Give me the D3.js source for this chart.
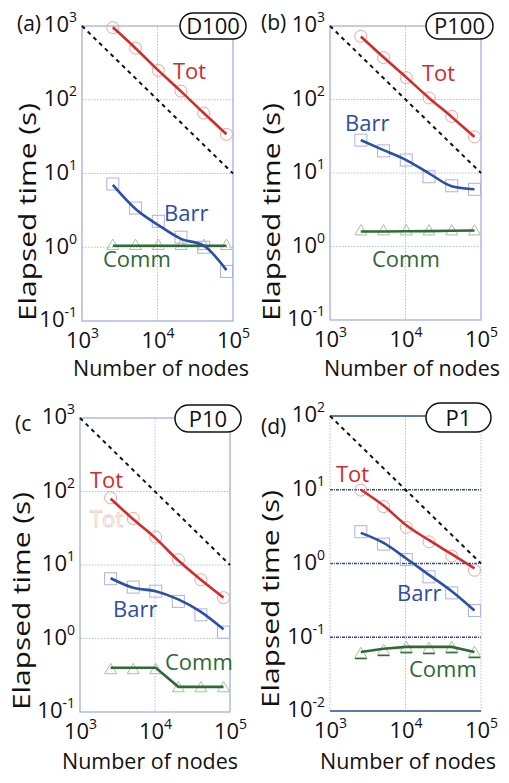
<!DOCTYPE html>
<html>
<head>
<meta charset="utf-8">
<script src="https://cdn.jsdelivr.net/npm/d3@7"></script>
<style>
body{margin:0;background:#fff}
svg{display:block}
text{font-family:"Open Sans",sans-serif}
</style>
</head>
<body>
<div id="chart"></div>
<script>
// ---- data ----
const nodes = [2560, 5120, 10240, 20480, 40960, 81920];
const idealX = [1e3, 1e5];

const panelTags = ["(a)", "(b)", "(c", "(d)"];
const caseNames = ["D100", "P100", "P10", "P1"];

// (a) D100
const totA = [950, 500, 250, 131, 66, 34];
const totLineA = [960, 500, 250, 130, 66, 34];
const barrA = [7.2, 3.4, 2.25, 1.37, 1.0, 0.47];
const barrLineA = [7.0, 3.3, 2.0, 1.3, 1.05, 0.49];
const commA = [1.04, 1.04, 1.04, 1.04, 1.04, 1.04];
const commLineA = [1.05, 1.05, 1.05, 1.05, 1.05, 1.05];
const idealA = [1000, 10];

// (b) P100
const totB = [724, 372, 198, 105, 59, 31];
const totLineB = [720, 375, 200, 105, 58, 31];
const barrB = [28, 20, 15, 8.9, 6.7, 6.0];
const barrLineB = [28, 20.5, 15, 9.9, 6.6, 6.0];
const commB = [1.6, 1.6, 1.6, 1.6, 1.6, 1.6];
const commLineB = [1.6, 1.6, 1.61, 1.62, 1.64, 1.65];
const idealB = [1000, 10];

// (c) P10
const totC = [82, 43, 24, 11.8, 6.3, 3.6];
const totLineC = [80, 42, 23, 11.5, 6.3, 3.6];
const barrC = [6.5, 5.0, 4.4, 3.2, 2.1, 1.22];
const barrLineC = [6.6, 4.9, 4.4, 3.4, 2.3, 1.33];
const commC = [0.37, 0.37, 0.37, 0.21, 0.21, 0.21];
const commLineC = [0.40, 0.40, 0.40, 0.22, 0.22, 0.22];
const idealC = [1000, 10];

// (d) P1
const totD = [9.9, 5.9, 3.1, 1.97, 1.26, 0.81];
const totLineD = [10, 6.1, 3.3, 2.07, 1.34, 0.86];
const barrD = [2.7, 1.83, 1.13, 0.66, 0.40, 0.23];
const barrLineD = [2.6, 1.9, 1.17, 0.70, 0.42, 0.23];
const commD = [0.059, 0.065, 0.071, 0.069, 0.071, 0.061];
const commLineD = [0.063, 0.070, 0.074, 0.074, 0.074, 0.063];
const idealD = [100, 1];

const yTicksHigh = [0.1, 1, 10, 100, 1000];
const yTicksLow = [0.01, 0.1, 1, 10, 100];
const xTicks = [1e3, 1e4, 1e5];

// ---- colours ----
const totColor = "#d42b2b", totMark = "#f2a39b";
const barrColor = "#2c4ea6", barrMark = "#a9b3e3";
const commColor = "#2d6a34", commMark = "#a3c39a";
const frameColor = "#9aa7e3", gridColor = "#b3bdec", darkBlue = "#2a48a8";

// ---- layout of each panel ----
const panels = [
  {tag: panelTags[0], name: caseNames[0], box: [82, 233, 26, 321], yTicks: yTicksHigh,
   tot: totA, totLine: totLineA, barr: barrA, barrLine: barrLineA, comm: commA, commLine: commLineA, ideal: idealA,
   tagPos: [17, 31], pill: [180, 13, 66, 26], yTitle: [36, 212], xTitle: [161, 376],
   labels: {tot: [173, 79], barr: [164, 221], comm: [103, 267]}},
  {tag: panelTags[1], name: caseNames[1], box: [330, 481, 26, 320], yTicks: yTicksHigh,
   tot: totB, totLine: totLineB, barr: barrB, barrLine: barrLineB, comm: commB, commLine: commLineB, ideal: idealB,
   tagPos: [261, 30], pill: [426, 13, 67, 26], yTitle: [280, 212], xTitle: [412, 376],
   labels: {tot: [422, 81], barr: [345, 131], comm: [372, 267]}},
  {tag: panelTags[2], name: caseNames[2], box: [80, 230, 418, 712], yTicks: yTicksHigh,
   tot: totC, totLine: totLineC, barr: barrC, barrLine: barrLineC, comm: commC, commLine: commLineC, ideal: idealC,
   tagPos: [15, 431], pill: [175, 405, 66, 27], yTitle: [30, 601], xTitle: [150, 769],
   labels: {tot: [90, 488], ghost: [90, 527], barr: [113, 617], comm: [165, 670]}},
  {tag: panelTags[3], name: caseNames[3], box: [330, 481, 416, 711], yTicks: yTicksLow, dark: true,
   tot: totD, totLine: totLineD, barr: barrD, barrLine: barrLineD, comm: commD, commLine: commLineD, ideal: idealD,
   tagPos: [261, 434], pill: [426, 403, 65, 29], yTitle: [279, 599], xTitle: [408, 769],
   labels: {tot: [336, 482], barr: [397, 601], comm: [409, 677]}}
];

const svg = d3.select("#chart").append("svg")
  .attr("width", 509).attr("height", 783);

panels.forEach(p => drawPanel(p));

function drawPanel(p) {
  const [x0, x1, y0, y1] = p.box;
  const g = svg.append("g");
  const x = d3.scaleLog().domain([1e3, 1e5]).range([x0, x1]);
  const y = d3.scaleLog().domain([p.yTicks[0], p.yTicks[p.yTicks.length - 1]]).range([y1, y0]);

  // grid
  g.selectAll(".vgrid").data([1e4]).enter().append("line")
    .attr("x1", d => x(d)).attr("x2", d => x(d)).attr("y1", y0).attr("y2", y1)
    .attr("stroke", gridColor).attr("stroke-width", 1).attr("stroke-dasharray", "1.5,1.5");
  g.selectAll(".hgrid").data(p.yTicks.slice(1, -1)).enter().append("line")
    .attr("x1", x0).attr("x2", x1).attr("y1", d => y(d)).attr("y2", d => y(d))
    .attr("stroke", p.dark ? darkBlue : gridColor)
    .attr("stroke-width", p.dark ? 1.3 : 1)
    .attr("stroke-dasharray", p.dark ? "3,1,1,1" : "1.5,1.5");

  // frame
  if (p.dark) {
    [x0, x1].forEach(v => g.append("line").attr("x1", v).attr("x2", v).attr("y1", y0).attr("y2", y1)
      .attr("stroke", gridColor).attr("stroke-dasharray", "1.5,1.5"));
    [y0, y1].forEach(v => g.append("line").attr("x1", x0).attr("x2", x1).attr("y1", v).attr("y2", v)
      .attr("stroke", darkBlue).attr("stroke-width", 1.5));
  } else {
    g.append("rect").attr("x", x0).attr("y", y0).attr("width", x1 - x0).attr("height", y1 - y0)
      .attr("fill", "none").attr("stroke", frameColor).attr("stroke-width", 1.2);
  }

  // axes
  const ax = d3.axisLeft(y).tickValues(p.yTicks).tickSize(0).tickPadding(5).tickFormat(() => "");
  const yAxis = g.append("g").attr("transform", `translate(${x0},0)`).call(ax);
  const bx = d3.axisBottom(x).tickValues(xTicks).tickSize(0).tickPadding(11).tickFormat(() => "");
  const xAxis = g.append("g").attr("transform", `translate(0,${y1})`).call(bx);
  [yAxis, xAxis].forEach(a => {
    a.select(".domain").remove();
    a.attr("font-size", null).attr("font-family", null);
    a.selectAll(".tick text").each(function(d) {
      const t = d3.select(this).attr("fill", "#111").style("font-size", "22px");
      t.append("tspan").text("10");
      t.append("tspan").attr("dy", -10).style("font-size", "14px").text(Math.round(Math.log10(d)));
    });
  });
  yAxis.selectAll(".tick text").attr("dy", "0.27em");

  // ideal scaling line
  g.append("path").datum(idealX.map((v, i) => [v, p.ideal[i]]))
    .attr("d", d3.line().x(d => x(d[0])).y(d => y(d[1])))
    .attr("stroke", "#111").attr("stroke-width", 2).attr("stroke-dasharray", "4,4").attr("fill", "none");

  // markers
  g.selectAll(".tri").data(p.comm).enter().append("path")
    .attr("transform", (d, i) => `translate(${x(nodes[i])},${y(d)})`)
    .attr("d", d3.symbol(d3.symbolTriangle, 62)())
    .attr("fill", "none").attr("stroke", commMark).attr("stroke-width", 1);
  if (p.dark) {
    g.selectAll(".triBase").data(p.comm).enter().append("line")
      .attr("x1", (d, i) => x(nodes[i]) - 6).attr("x2", (d, i) => x(nodes[i]) + 6)
      .attr("y1", d => y(d) + 4.5).attr("y2", d => y(d) + 4.5)
      .attr("stroke", commColor).attr("stroke-width", 1.3);
  }
  g.selectAll(".sq").data(p.barr).enter().append("rect")
    .attr("x", (d, i) => x(nodes[i]) - 6).attr("y", d => y(d) - 6)
    .attr("width", 12).attr("height", 12)
    .attr("fill", "none").attr("stroke", barrMark).attr("stroke-width", 1);
  g.selectAll(".circ").data(p.tot).enter().append("circle")
    .attr("cx", (d, i) => x(nodes[i])).attr("cy", d => y(d)).attr("r", 6)
    .attr("fill", "none").attr("stroke", totMark).attr("stroke-width", 1);

  // lines
  const line = d3.line().x((d, i) => x(nodes[i])).y(d => y(d));
  [[p.commLine, commColor, d3.curveLinear], [p.barrLine, barrColor, d3.curveMonotoneX], [p.totLine, totColor, d3.curveMonotoneX]]
    .forEach(([vals, col, cv]) => {
      g.append("path").datum(vals).attr("d", line.curve(cv))
        .attr("fill", "none").attr("stroke", col).attr("stroke-width", 2.6);
    });

  // series labels
  const L = p.labels;
  if (L.ghost) {
    g.append("text").attr("x", L.ghost[0]).attr("y", L.ghost[1]).text("Tot")
      .style("font-size", "22px").attr("fill", "none").attr("stroke", "#f3c6c2").attr("stroke-width", 0.8);
  }
  [["Tot", L.tot, totColor], ["Barr", L.barr, barrColor], ["Comm", L.comm, commColor]].forEach(([s, pos, col]) => {
    g.append("text").attr("x", pos[0]).attr("y", pos[1]).text(s)
      .style("font-size", "22px").attr("fill", col);
  });

  // case pill
  const [px, py, pw, ph] = p.pill;
  g.append("rect").attr("x", px).attr("y", py).attr("width", pw).attr("height", ph)
    .attr("rx", ph / 2).attr("ry", ph / 2).attr("fill", "#fff").attr("stroke", "#111").attr("stroke-width", 1.5);
  g.append("text").attr("x", px + pw / 2).attr("y", py + ph / 2 + 8).attr("text-anchor", "middle")
    .style("font-size", "22px").attr("fill", "#111").text(p.name);

  // panel tag
  g.append("text").attr("x", p.tagPos[0]).attr("y", p.tagPos[1]).text(p.tag)
    .style("font-size", "21px").attr("fill", "#111");

  // axis titles
  g.append("text").attr("transform", `translate(${p.yTitle[0]},${p.yTitle[1]}) rotate(-90)`)
    .attr("text-anchor", "middle").style("font-size", "23px").attr("fill", "#111")
    .attr("textLength", 218).attr("lengthAdjust", "spacingAndGlyphs").text("Elapsed time (s)");
  g.append("text").attr("x", p.xTitle[0]).attr("y", p.xTitle[1])
    .attr("text-anchor", "middle").style("font-size", "22px").attr("fill", "#111")
    .attr("textLength", 176).attr("lengthAdjust", "spacingAndGlyphs").text("Number of nodes");
}
</script>
</body>
</html>
